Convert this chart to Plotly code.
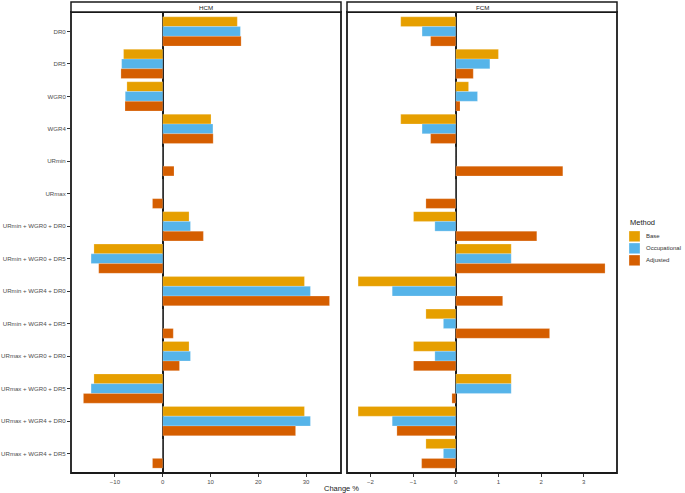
import plotly.graph_objects as go

categories = ["DR0", "DR5", "WGR0", "WGR4", "URmin", "URmax",
              "URmin + WGR0 + DR0", "URmin + WGR0 + DR5", "URmin + WGR4 + DR0", "URmin + WGR4 + DR5",
              "URmax + WGR0 + DR0", "URmax + WGR0 + DR5", "URmax + WGR4 + DR0", "URmax + WGR4 + DR5"]
methods = ["Base", "Occupational", "Adjusted"]
colors = ["#E69F00", "#56B4E9", "#D55E00"]

hcm_base = [15.6, -8.2, -7.5, 10.1, 0, 0, 5.5, -14.4, 29.65, 0, 5.5, -14.4, 29.65, 0]
hcm_occ = [16.25, -8.6, -7.85, 10.5, 0, 0, 5.8, -15.0, 30.9, 0, 5.8, -15.0, 30.9, 0]
hcm_adj = [16.4, -8.75, -7.9, 10.55, 2.36, -2.15, 8.5, -13.4, 34.9, 2.2, 3.5, -16.6, 27.8, -2.15]

fcm_base = [-1.29, 1.0, 0.30, -1.29, 0, 0, -0.99, 1.3, -2.29, -0.7, -0.99, 1.3, -2.29, -0.7]
fcm_occ = [-0.79, 0.80, 0.51, -0.79, 0, 0, -0.49, 1.3, -1.49, -0.29, -0.49, 1.3, -1.49, -0.29]
fcm_adj = [-0.59, 0.41, 0.10, -0.59, 2.51, -0.70, 1.9, 3.5, 1.1, 2.2, -0.99, -0.09, -1.38, -0.8]

W, H = 685, 493
FONT = "Liberation Sans, Arial, sans-serif"

fig = go.Figure()
hcm = [hcm_base, hcm_occ, hcm_adj]
fcm = [fcm_base, fcm_occ, fcm_adj]
for i, m in enumerate(methods):
    fig.add_trace(go.Bar(y=categories, x=hcm[i], orientation="h", name=m,
                         marker=dict(color=colors[i], line=dict(color="rgba(255,255,255,0.35)", width=0.6)),
                         xaxis="x", yaxis="y", showlegend=False))
for i, m in enumerate(methods):
    fig.add_trace(go.Bar(y=categories, x=fcm[i], orientation="h", name=m,
                         marker=dict(color=colors[i], line=dict(color="rgba(255,255,255,0.35)", width=0.6)),
                         xaxis="x2", yaxis="y2", showlegend=False))

px_l1, px_r1 = 71, 341
px_l2, px_r2 = 347, 617
py_top, py_bot = 12, 473
ydom = [(H - py_bot) / H, (H - py_top) / H]

def X(px):
    return px / W

def Y(py):
    return (H - py) / H

axis_common = dict(showgrid=False, ticks="outside", ticklen=3, tickcolor="#333333", tickwidth=1,
                   tickfont=dict(size=6, color="#4D4D4D", family=FONT), showline=False,
                   zeroline=True, zerolinecolor="#1a1a1a", zerolinewidth=1.8, automargin=False)

fig.update_layout(
    width=W, height=H, margin=dict(l=0, r=0, t=0, b=0, autoexpand=False),
    paper_bgcolor="white", plot_bgcolor="white", showlegend=False,
    barmode="group", bargap=0.1, bargroupgap=0,
    font=dict(family=FONT, size=6, color="#1a1a1a"),
    xaxis=dict(domain=[X(px_l1), X(px_r1)], range=[-19.2, 37.3],
               tickvals=[-10, 0, 10, 20, 30], anchor="y", **axis_common),
    xaxis2=dict(domain=[X(px_l2), X(px_r2)], range=[-2.55, 3.78],
                tickvals=[-2, -1, 0, 1, 2, 3], anchor="y2", **axis_common),
    yaxis=dict(domain=ydom, categoryorder="array", categoryarray=categories,
               range=[13.6, -0.6], showgrid=False, ticks="outside", ticklen=3,
               tickcolor="#333333", tickfont=dict(size=6.1, color="#4D4D4D", family=FONT),
               anchor="x", automargin=False, zeroline=False),
    yaxis2=dict(domain=ydom, categoryorder="array", categoryarray=categories,
                range=[13.6, -0.6], showgrid=False, ticks="", showticklabels=False,
                anchor="x2", matches="y", automargin=False, zeroline=False),
)

shapes = []
annotations = []
for (l, r, name) in [(px_l1, px_r1, "HCM"), (px_l2, px_r2, "FCM")]:
    shapes.append(dict(type="rect", xref="paper", yref="paper",
                       x0=X(l), x1=X(r), y0=Y(py_bot), y1=Y(py_top),
                       line=dict(color="#1a1a1a", width=1.8), layer="above"))
    shapes.append(dict(type="rect", xref="paper", yref="paper",
                       x0=X(l), x1=X(r), y0=Y(py_top), y1=Y(2),
                       line=dict(color="#1a1a1a", width=1.5), fillcolor="white", layer="above"))
    annotations.append(dict(text=name, xref="paper", yref="paper", x=X((l + r) / 2),
                            y=Y(7), showarrow=False, xanchor="center", yanchor="middle",
                            font=dict(size=6.2, color="#1a1a1a", family=FONT)))
annotations.append(dict(text="Change %", xref="paper", yref="paper", x=X(341), y=Y(488),
                        showarrow=False, xanchor="center", yanchor="middle",
                        font=dict(size=7.5, color="#1a1a1a", family=FONT)))

# legend (drawn manually)
annotations.append(dict(text="Method", xref="paper", yref="paper", x=X(628), y=Y(222.7),
                        showarrow=False, xanchor="left", yanchor="middle",
                        font=dict(size=7.5, color="#1a1a1a", family=FONT)))
key_tops = [231, 243, 255]
for m, c, t in zip(methods, colors, key_tops):
    shapes.append(dict(type="rect", xref="paper", yref="paper",
                       x0=X(629), x1=X(640), y0=Y(t + 10.7), y1=Y(t),
                       fillcolor=c, line=dict(color="rgba(255,255,255,0.5)", width=0.6)))
    annotations.append(dict(text=m, xref="paper", yref="paper", x=X(644), y=Y(t + 5.3),
                            showarrow=False, xanchor="left", yanchor="middle",
                            font=dict(size=6, color="#333333", family=FONT)))
fig.update_layout(shapes=shapes, annotations=annotations)

fig.write_html("out.html", config={"displayModeBar": False},
               post_script="document.body.style.margin='0px';")
